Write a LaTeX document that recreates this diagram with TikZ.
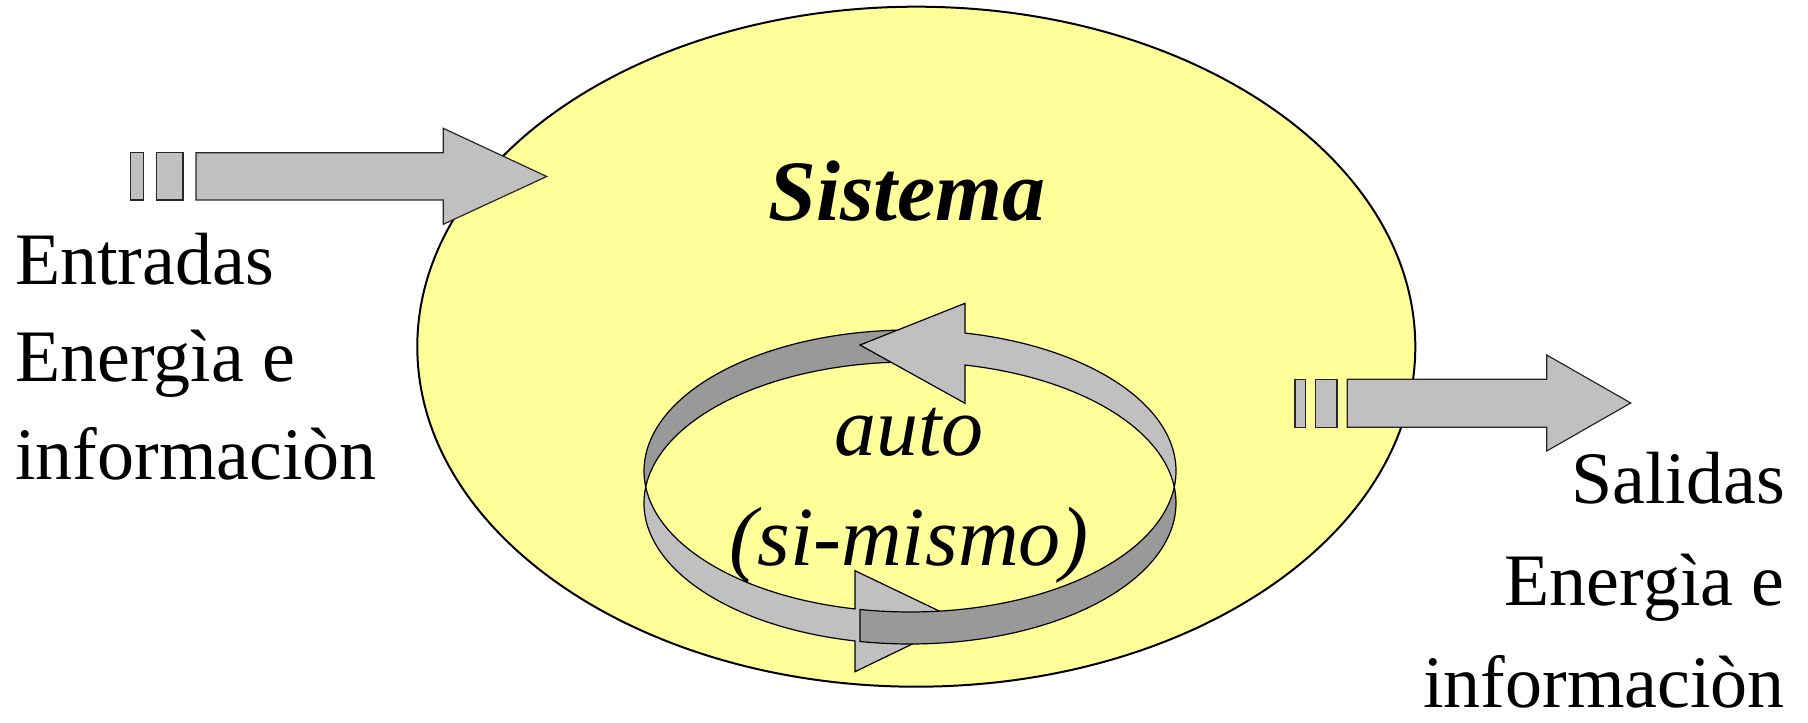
\documentclass[tikz,border=0pt]{standalone}
\usepackage{fontspec}
\setmainfont{Liberation Serif}
\usepackage{tikz}
\usetikzlibrary{calc}
\definecolor{sysyellow}{HTML}{FFFF99}
\definecolor{arrowgrey}{HTML}{C0C0C0}
\definecolor{bandgrey}{HTML}{999999}

\begin{document}
\begin{tikzpicture}[x=1pt, y=1pt,
	blockarrow/.style={fill=arrowgrey, draw=black!85, line width=1.2pt},
	ringband/.style={fill=bandgrey, draw=black, line width=1.2pt},
	ringarrow/.style={fill=arrowgrey, draw=black, line width=1.2pt},
	sidetext/.style={font=\fontsize{74}{80}\selectfont, inner sep=0pt},
	autotext/.style={font=\fontsize{84}{90}\selectfont\itshape, inner sep=0pt, anchor=base}]
	\useasboundingbox (0,0) rectangle (1808,723);
	\draw[fill=sysyellow, line width=2pt] (916.3,376.3) ellipse[x radius=499pt, y radius=340pt];
	\node[font=\fontsize{86}{90}\selectfont\bfseries\itshape, inner sep=0pt, anchor=base] (sistema) at (907,502) {Sistema};

	\draw[blockarrow] (130.7,523) rectangle (143.7,570.3);
	\draw[blockarrow] (156.7,523) rectangle (183,570.3);
	\draw[blockarrow] (196,523) -- (443.3,523) -- (443.3,498.7) -- (546.7,546.5) -- (443.3,594.7) -- (443.3,570.3) -- (196,570.3) -- cycle;

	\draw[blockarrow] (1295,295.7) rectangle (1305.7,343.7);
	\draw[blockarrow] (1315.7,295.7) rectangle (1337,343.7);
	\draw[blockarrow] (1347.3,295.7) -- (1546.7,295.7) -- (1546.7,272) -- (1630.7,320) -- (1546.7,368) -- (1546.7,343.7) -- (1347.3,343.7) -- cycle;

	\coordinate (ringA) at (910,252);
	\coordinate (ringB) at (910,220);
	\draw[ringband] (ringA) ++(186.5:266pt and 141pt) arc[start angle=186.5, end angle=85, x radius=266pt, y radius=141pt] -- ++(0,-32) arc[start angle=85, end angle=173.5, x radius=266pt, y radius=141pt] -- cycle;
	\draw[ringarrow] (ringA) ++(-6.5:266pt and 141pt) arc[start angle=-6.5, end angle=78.07, x radius=266pt, y radius=141pt] -- (965,419.7) -- (860,378) -- (965,319.7) -- ($(ringB)+(78.07:266pt and 141pt)$) arc[start angle=78.07, end angle=6.5, x radius=266pt, y radius=141pt] -- cycle;
	\draw[ringarrow] (ringB) ++(173.5:266pt and 141pt) arc[start angle=173.5, end angle=258.07, x radius=266pt, y radius=141pt] -- (855,51.3) -- (960,102) -- (855,152.3) -- ($(ringA)+(258.07:266pt and 141pt)$) arc[start angle=258.07, end angle=186.5, x radius=266pt, y radius=141pt] -- cycle;
	\draw[ringband] (ringA) ++(-6.5:266pt and 141pt) arc[start angle=-6.5, end angle=-100.83, x radius=266pt, y radius=141pt] -- ++(0,-32) arc[start angle=-100.83, end angle=6.5, x radius=266pt, y radius=141pt] -- cycle;

	\node[autotext] (auto) at (909,267.5) {auto};
	\node[autotext] (simismo) at (909,157) {(si-mismo)};

	\node[sidetext, anchor=base west] (entradas) at (15,438) {Entradas};
	\node[sidetext, anchor=base west] (energiain) at (15,341) {Energìa e};
	\node[sidetext, anchor=base west] (infoin) at (15,243) {informaciòn};

	\node[sidetext, anchor=base east] (salidas) at (1785,219) {Salidas};
	\node[sidetext, anchor=base east] (energiaout) at (1785,117) {Energìa e};
	\node[sidetext, anchor=base east] (infoout) at (1785,15) {informaciòn};
\end{tikzpicture}
\end{document}
